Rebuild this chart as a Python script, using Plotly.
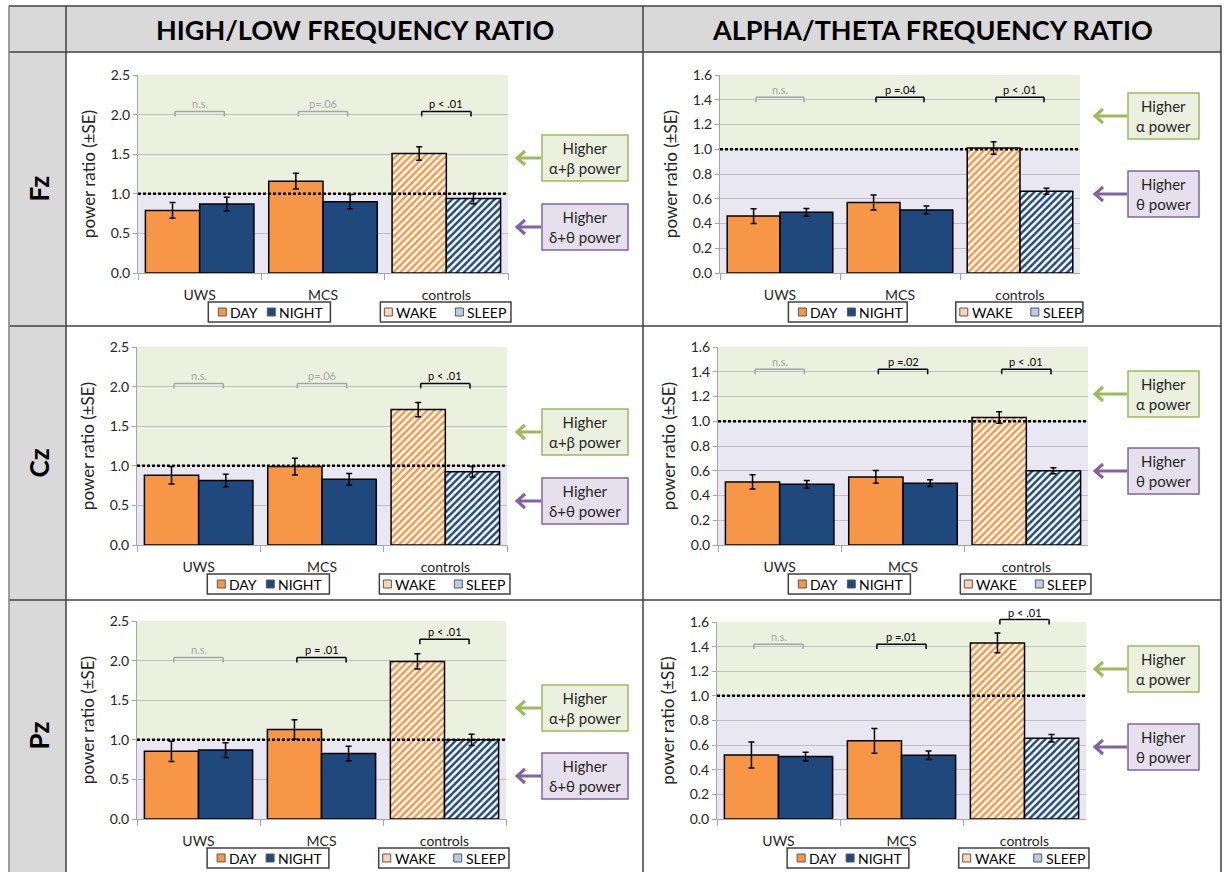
import plotly.graph_objects as go

W, H = 1224, 872

groups = ["UWS", "MCS", "controls"]
rows = ["Fz", "Cz", "Pz"]
columns = ["HIGH/LOW FREQUENCY RATIO", "ALPHA/THETA FREQUENCY RATIO"]

# High/low frequency ratio: DAY (patients) / WAKE (controls) and NIGHT / SLEEP
hl_fz_day = [0.79, 1.16, 1.51]
hl_fz_day_se = [0.10, 0.10, 0.085]
hl_fz_night = [0.87, 0.90, 0.94]
hl_fz_night_se = [0.085, 0.09, 0.065]

hl_cz_day = [0.88, 0.99, 1.71]
hl_cz_day_se = [0.11, 0.105, 0.09]
hl_cz_night = [0.815, 0.83, 0.925]
hl_cz_night_se = [0.078, 0.074, 0.067]

hl_pz_day = [0.855, 1.13, 1.99]
hl_pz_day_se = [0.128, 0.124, 0.096]
hl_pz_night = [0.87, 0.826, 1.00]
hl_pz_night_se = [0.094, 0.092, 0.071]

# Alpha/theta frequency ratio
at_fz_day = [0.46, 0.57, 1.01]
at_fz_day_se = [0.06, 0.06, 0.05]
at_fz_night = [0.49, 0.51, 0.66]
at_fz_night_se = [0.032, 0.031, 0.024]

at_cz_day = [0.51, 0.55, 1.03]
at_cz_day_se = [0.058, 0.052, 0.047]
at_cz_night = [0.49, 0.50, 0.60]
at_cz_night_se = [0.031, 0.028, 0.024]

at_pz_day = [0.52, 0.635, 1.43]
at_pz_day_se = [0.105, 0.10, 0.08]
at_pz_night = [0.507, 0.518, 0.656]
at_pz_night_se = [0.035, 0.034, 0.03]

# Day-vs-night comparisons: label and bracket level per group
hl_fz_sig = ["n.s.", "p=.06", "p < .01"]
hl_fz_sig_y = [2.04, 2.04, 2.04]
hl_cz_sig = ["n.s.", "p=.06", "p < .01"]
hl_cz_sig_y = [2.04, 2.04, 2.04]
hl_pz_sig = ["n.s.", "p = .01", "p < .01"]
hl_pz_sig_y = [2.04, 2.04, 2.27]
at_fz_sig = ["n.s.", "p =.04", "p < .01"]
at_fz_sig_y = [1.42, 1.42, 1.42]
at_cz_sig = ["n.s.", "p =.02", "p < .01"]
at_cz_sig_y = [1.42, 1.42, 1.42]
at_pz_sig = ["n.s.", "p =.01", "p < .01"]
at_pz_sig_y = [1.42, 1.42, 1.62]

hl_ymax, hl_dtick = 2.5, 0.5
at_ymax, at_dtick = 1.6, 0.2
ref_level = 1.0

hl_box_up = "Higher<br>α+β power"
hl_box_down = "Higher<br>δ+θ power"
at_box_up = "Higher<br>α power"
at_box_down = "Higher<br>θ power"

# ---- styling ----
ORANGE = "#F79646"
NAVY = "#1F497D"
GREEN_BG = "#EBF1DE"
LAV_BG = "#E9E7F1"
GREEN_LINE = "#9BBB59"
PURPLE_LINE = "#8064A2"
GREEN_BOX = "#EBF1DE"
PURPLE_BOX = "#E6E0EC"
GRID = "#BFBFBF"
AXIS = "#A6A6A6"
FAINT = "#A6A6A6"
CELL = "#D9D9D9"
BORDER = "#404040"
FONT = "Lato, Carlito, Calibri, sans-serif"

# plot areas (left, right, top, bottom) in pixels, row-major
areas = [
    (138, 508, 75, 273), (720, 1080, 75, 273),
    (137, 507, 347, 545), (718, 1088, 347, 545),
    (137, 506, 621, 819), (717, 1086, 622, 819),
]
row_lines = [6, 52, 326, 600, 872]
col_lines = [9, 66, 643, 1221]


def X(px):
    return px / W


def Y(py):
    return 1 - py / H


def label(x, y, text, size, color="black", **kw):
    d = dict(xref="paper", yref="paper", x=x, y=y, text=text, showarrow=False,
             xanchor="center", yanchor="middle", font=dict(size=size, color=color, family=FONT))
    d.update(kw)
    return d


panels = [
    (hl_fz_day, hl_fz_day_se, hl_fz_night, hl_fz_night_se, hl_fz_sig, hl_fz_sig_y, hl_ymax, hl_dtick),
    (at_fz_day, at_fz_day_se, at_fz_night, at_fz_night_se, at_fz_sig, at_fz_sig_y, at_ymax, at_dtick),
    (hl_cz_day, hl_cz_day_se, hl_cz_night, hl_cz_night_se, hl_cz_sig, hl_cz_sig_y, hl_ymax, hl_dtick),
    (at_cz_day, at_cz_day_se, at_cz_night, at_cz_night_se, at_cz_sig, at_cz_sig_y, at_ymax, at_dtick),
    (hl_pz_day, hl_pz_day_se, hl_pz_night, hl_pz_night_se, hl_pz_sig, hl_pz_sig_y, hl_ymax, hl_dtick),
    (at_pz_day, at_pz_day_se, at_pz_night, at_pz_night_se, at_pz_sig, at_pz_sig_y, at_ymax, at_dtick),
]

# side labels: (y of green arrow, y of purple arrow) per panel in pixels
side_y = [(158, 227), (116, 194), (432, 501), (394, 471), (708, 776), (669, 747)]

fig = go.Figure()
shapes = []
annotations = []
layout = {}

# ---- table cells ----
shapes.append(dict(type="rect", xref="paper", yref="paper", layer="below",
                   x0=X(col_lines[0]), x1=X(col_lines[-1]), y0=Y(row_lines[0]), y1=Y(row_lines[1]),
                   fillcolor=CELL, line=dict(width=0)))
shapes.append(dict(type="rect", xref="paper", yref="paper", layer="below",
                   x0=X(col_lines[0]), x1=X(col_lines[1]), y0=Y(row_lines[0]), y1=Y(row_lines[-1]),
                   fillcolor=CELL, line=dict(width=0)))
for yl in row_lines[:-1]:
    shapes.append(dict(type="line", xref="paper", yref="paper", layer="above",
                       x0=X(col_lines[0]), x1=X(col_lines[-1]), y0=Y(yl), y1=Y(yl),
                       line=dict(color=BORDER, width=1.5)))
for i, xl in enumerate(col_lines):
    shapes.append(dict(type="line", xref="paper", yref="paper", layer="above",
                       x0=X(xl), x1=X(xl), y0=Y(row_lines[0]), y1=Y(row_lines[-1]),
                       line=dict(color="#808080" if i == 0 else BORDER, width=1.5)))

for c, title in enumerate(columns):
    annotations.append(label(X((col_lines[c + 1] + col_lines[c + 2]) / 2),
                             Y((row_lines[0] + row_lines[1]) / 2 + 1), "<b>%s</b>" % title, 27))
for r, name in enumerate(rows):
    annotations.append(label(X((col_lines[0] + col_lines[1]) / 2 + 1),
                             Y((row_lines[r + 1] + row_lines[r + 2]) / 2), "<b>%s</b>" % name, 26,
                             textangle=-90))

# ---- panels ----
for k, (day, day_se, night, night_se, sig, sig_y, ymax, dtick) in enumerate(panels):
    s = "" if k == 0 else str(k + 1)
    L, R, T, B = areas[k]
    col = k % 2
    xa, ya = "x" + s, "y" + s

    for vals, errs, color, name in ((day, day_se, ORANGE, "DAY"), (night, night_se, NAVY, "NIGHT")):
        fig.add_trace(go.Bar(
            x=groups, y=vals, name=name, xaxis=xa, yaxis=ya,
            marker=dict(color=color, line=dict(color="black", width=1.5),
                        pattern=dict(shape=["", "", "/"], fgcolor=color, bgcolor="white",
                                     size=5, solidity=0.5, fillmode="replace")),
            error_y=dict(type="data", array=errs, color="black", thickness=1.5, width=3),
            showlegend=False,
        ))

    layout["xaxis" + s] = dict(
        domain=[X(L), X(R)], anchor=ya, type="category", categoryorder="array",
        categoryarray=groups, range=[-0.5, 2.5], showgrid=False, showline=True,
        linecolor=AXIS, linewidth=1, ticks="outside", tickson="boundaries", ticklen=6,
        tickcolor=AXIS, tickfont=dict(size=14, color="#262626"), ticklabelstandoff=9,
        automargin=False,
    )
    layout["yaxis" + s] = dict(
        domain=[Y(B), Y(T)], anchor=xa, range=[0, ymax], dtick=dtick, tick0=0,
        tickformat=".1f", showgrid=True, gridcolor=GRID, gridwidth=1, zeroline=False,
        showline=True, linecolor=AXIS, linewidth=1, ticks="outside", ticklen=4,
        tickcolor=AXIS, tickfont=dict(size=14, color="#262626"), automargin=False,
        title=dict(text="power ratio (±SE)", font=dict(size=17, color="#262626"), standoff=10),
    )

    # shaded regions above / below the reference ratio
    shapes.append(dict(type="rect", xref=xa + " domain", yref=ya, layer="below", x0=0, x1=1,
                       y0=ref_level, y1=ymax, fillcolor=GREEN_BG, line=dict(width=0)))
    shapes.append(dict(type="rect", xref=xa + " domain", yref=ya, layer="below", x0=0, x1=1,
                       y0=0, y1=ref_level, fillcolor=LAV_BG, line=dict(width=0)))
    # reference ratio of 1
    shapes.append(dict(type="line", xref=xa + " domain", yref=ya, layer="above", x0=0, x1=1,
                       y0=ref_level, y1=ref_level, line=dict(color="black", width=2.5, dash="3px,2px")))

    # significance brackets
    leg = 0.025
    for i, (txt, lvl) in enumerate(zip(sig, sig_y)):
        clr = FAINT if txt in ("n.s.", "p=.06") else "black"
        top = lvl / ymax
        for (x0, x1, y0, y1) in ((i - 0.2, i - 0.2, top - leg, top), (i - 0.2, i + 0.2, top, top),
                                 (i + 0.2, i + 0.2, top, top - leg)):
            shapes.append(dict(type="line", xref=xa, yref=ya + " domain", x0=x0, x1=x1, y0=y0, y1=y1,
                               line=dict(color=clr, width=1.5)))
        annotations.append(dict(xref=xa, yref=ya + " domain", x=i, y=top, xanchor="center",
                                yanchor="bottom", yshift=-1, text=txt, showarrow=False,
                                font=dict(size=11, color=clr, family=FONT)))

    # legend boxes under the axis
    pw = R - L
    ly0, ly1 = B + 29, B + 49
    lyc = (ly0 + ly1) / 2
    boxes = [
        (L + 0.19 * pw, L + 0.52 * pw, [(10, ORANGE, "DAY"), (59, NAVY, "NIGHT")]),
        (L + 0.655 * pw, L + 1.008 * pw, [(4, "#FCD5B5", "WAKE"), (75, "#B9CDE5", "SLEEP")]),
    ]
    for bx0, bx1, items in boxes:
        shapes.append(dict(type="rect", xref="paper", yref="paper", x0=X(bx0), x1=X(bx1),
                           y0=Y(ly1), y1=Y(ly0), fillcolor="white", line=dict(color=BORDER, width=1.5)))
        for off, fc, lab in items:
            sx = bx0 + off
            shapes.append(dict(type="rect", xref="paper", yref="paper", x0=X(sx), x1=X(sx + 8),
                               y0=Y(lyc + 4), y1=Y(lyc - 4), fillcolor=fc,
                               line=dict(color="#595959", width=1)))
            annotations.append(label(X(sx + 10), Y(lyc), lab, 14, xanchor="left"))

    # side boxes with arrows
    gy, py_ = side_y[k]
    if col == 0:
        bx0, bx1, head = 542, 628, 517
        up_txt, down_txt = hl_box_up, hl_box_down
    else:
        bx0, bx1, head = 1128, 1199, 1095
        up_txt, down_txt = at_box_up, at_box_down
    for yy, txt, fill, edge in ((gy, up_txt, GREEN_BOX, GREEN_LINE), (py_, down_txt, PURPLE_BOX, PURPLE_LINE)):
        shapes.append(dict(type="rect", xref="paper", yref="paper", x0=X(bx0), x1=X(bx1),
                           y0=Y(yy + 23), y1=Y(yy - 23), fillcolor=fill, line=dict(color=edge, width=1.5)))
        annotations.append(label(X((bx0 + bx1) / 2), Y(yy), txt, 15, "#262626"))
        path = "M%f,%f L%f,%f M%f,%f L%f,%f L%f,%f" % (
            X(bx0 - 1), Y(yy), X(head), Y(yy),
            X(head + 8), Y(yy - 7), X(head), Y(yy), X(head + 8), Y(yy + 7))
        shapes.append(dict(type="path", xref="paper", yref="paper", path=path,
                           line=dict(color=edge, width=3)))

layout.update(dict(
    width=W, height=H, margin=dict(l=0, r=0, t=0, b=0, pad=0, autoexpand=False),
    paper_bgcolor="white", plot_bgcolor="rgba(0,0,0,0)",
    barmode="group", bargap=0.12, bargroupgap=0, showlegend=False,
    font=dict(family=FONT, color="#262626"),
    shapes=shapes, annotations=annotations,
))
fig.update_layout(layout)
fig.write_html("out.html")
